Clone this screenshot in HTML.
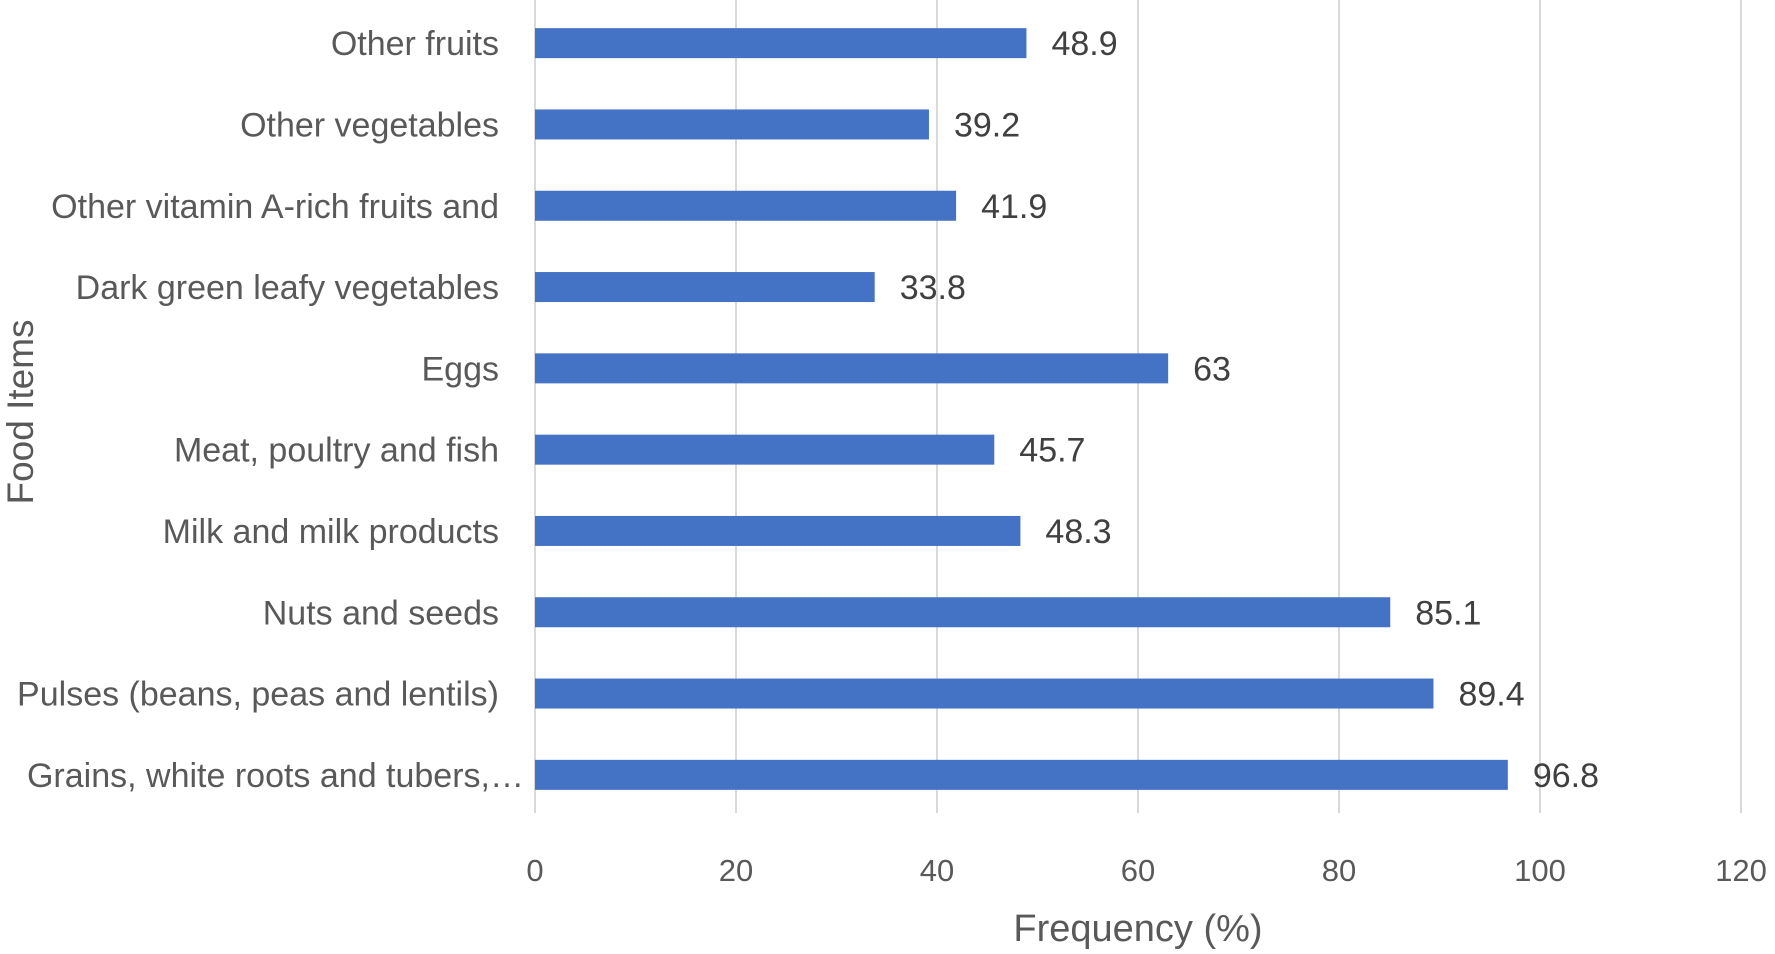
<!DOCTYPE html>
<html><head><meta charset="utf-8"><style>
html,body{margin:0;padding:0;background:#fff;}
svg{display:block;font-family:"Liberation Sans",sans-serif;}
</style></head><body>
<svg id="chart" width="1775" height="954" viewBox="0 0 1775 954" xmlns="http://www.w3.org/2000/svg">
<g id="grid"></g>
<g id="bars"></g>
<g id="labels"></g>
<g id="ticks"></g>
<text x="1138" y="941" text-anchor="middle" font-size="38" fill="#595959">Frequency  (%)</text>
<text transform="translate(33,412) rotate(-90)" text-anchor="middle" font-size="37" fill="#595959">Food Items</text>
</svg>
<script>
const categories = ["Other fruits","Other vegetables","Other vitamin A-rich fruits and","Dark green leafy vegetables","Eggs","Meat, poultry and fish","Milk and milk products","Nuts and seeds","Pulses (beans, peas and lentils)","Grains, white roots and tubers,…"];
const values = [48.9,39.2,41.9,33.8,63,45.7,48.3,85.1,89.4,96.8];
const valueLabels = ["48.9","39.2","41.9","33.8","63","45.7","48.3","85.1","89.4","96.8"];
const ticks = [0,20,40,60,80,100,120];

const NS="http://www.w3.org/2000/svg";
const x0=535, x1=1741, xmax=120;
const xs=v=>x0+(x1-x0)*v/xmax;
const yTop=2.5, yBottom=815.5;
const band=(yBottom-yTop)/categories.length;
const yc=i=>yTop+band*(i+0.5);
function mk(tag,attrs,parent){const e=document.createElementNS(NS,tag);for(const k in attrs)e.setAttribute(k,attrs[k]);parent.appendChild(e);return e;}
const grid=document.getElementById('grid'),bars=document.getElementById('bars'),labels=document.getElementById('labels'),tk=document.getElementById('ticks');
ticks.forEach(t=>{
  const l=mk('line',{x1:xs(t),x2:xs(t),y1:0,y2:813,stroke:'#d9d9d9','stroke-width':2},grid);
  
  
  const tx=mk('text',{x:xs(t),y:881,'text-anchor':'middle','font-size':31,fill:'#595959'},tk);
  tx.textContent=t;
  
  
});
categories.forEach((c,i)=>{
  const h=30;
  const r=mk('rect',{x:x0,y:yc(i)-h/2,width:xs(values[i])-x0,height:h,fill:'#4472c4'},bars);
  
  
  const v=mk('text',{x:xs(values[i])+25,y:yc(i)+12,'font-size':34,fill:'#404040'},bars);
  v.textContent=valueLabels[i];
  
  
  const lb=mk('text',{x:i===categories.length-1?524:499,y:yc(i)+12,'text-anchor':'end','font-size':34,fill:'#595959'},labels);
  lb.textContent=c;
  
  
});
</script>
</body></html>
